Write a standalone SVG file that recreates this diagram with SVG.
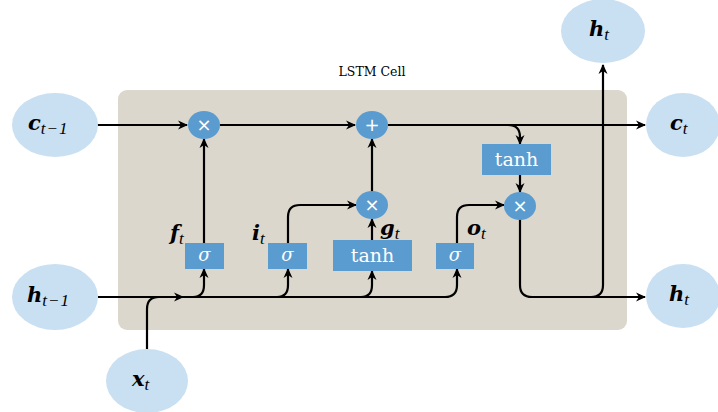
<svg xmlns="http://www.w3.org/2000/svg" width="718" height="412" viewBox="0 0 718 412">
<style>
.io{fill:#c9dff2;}
.op{fill:#5a9ccf;}
.box{fill:#5a9ccf;}
.ln{fill:none;stroke:#000;stroke-width:2.2;}
.m{font-family:'DejaVu Serif','Liberation Serif',serif;font-style:italic;font-weight:bold;font-size:21px;fill:#000;}
.sub{font-family:'Liberation Serif','DejaVu Serif',serif;font-style:italic;font-size:17px;font-weight:normal;letter-spacing:1px;}
.sym{font-family:'DejaVu Sans','Liberation Sans',sans-serif;font-size:18px;fill:#ffffff;}
.bt{font-family:'DejaVu Serif','Liberation Serif',serif;font-size:19px;fill:#ffffff;}
.sg{font-family:'DejaVu Serif','Liberation Serif',serif;font-style:italic;font-size:18px;fill:#ffffff;}
</style>
<defs>
<marker id="ah" viewBox="0 0 10 10" refX="9" refY="5" markerWidth="10" markerHeight="10" orient="auto" markerUnits="userSpaceOnUse">
<path d="M0,0.5 L10,5 L0,9.5 L3,5 Z" fill="#000"/>
</marker>
</defs>
<rect width="718" height="412" fill="#ffffff"/>
<rect x="118" y="90" width="509" height="240" rx="9" fill="#dcd7cc"/>
<text x="372" y="76" text-anchor="middle" font-family="DejaVu Serif,serif" font-size="12.5" fill="#000">LSTM Cell</text>

<g id="connectors">
<path class="ln" d="M97,125 H187" marker-end="url(#ah)"/>
<path class="ln" d="M220,125 H355" marker-end="url(#ah)"/>
<path class="ln" d="M388,125 H645" marker-end="url(#ah)"/>
<path class="ln" d="M508,125 Q520,125 520,137 V144" marker-end="url(#ah)"/>
<path class="ln" d="M520,175 V192" marker-end="url(#ah)"/>
<path class="ln" d="M204,243 V139" marker-end="url(#ah)"/>
<path class="ln" d="M288,243 V217 Q288,205 300,205 H356" marker-end="url(#ah)"/>
<path class="ln" d="M372,240 V219" marker-end="url(#ah)"/>
<path class="ln" d="M372,192 V139" marker-end="url(#ah)"/>
<path class="ln" d="M457,243 V217 Q457,205 469,205 H504" marker-end="url(#ah)"/>
<path class="ln" d="M520,219 V285 Q520,297 532,297 H645" marker-end="url(#ah)"/>
<path class="ln" d="M591,297 Q603,297 603,285 V65" marker-end="url(#ah)"/>
<path class="ln" d="M98,297 H183" marker-end="url(#ah)"/>
<path class="ln" d="M183,297 H445 Q457,297 457,285 V269" marker-end="url(#ah)"/>
<path class="ln" d="M147,350 V309 Q147,297 159,297"/>
<path class="ln" d="M193,297 Q204,297 204,285 V269" marker-end="url(#ah)"/>
<path class="ln" d="M277,297 Q288,297 288,285 V269" marker-end="url(#ah)"/>
<path class="ln" d="M361,297 Q372,297 372,285 V271" marker-end="url(#ah)"/>
</g>

<g id="c_prev"><ellipse class="io" cx="55" cy="125" rx="43" ry="32"/><text x="28" y="130" class="m">c<tspan class="sub" dy="4">t−1</tspan></text></g>
<g id="h_prev"><ellipse class="io" cx="55" cy="297" rx="43" ry="33"/><text x="27" y="302" class="m">h<tspan class="sub" dy="4">t−1</tspan></text></g>
<g id="x_t"><ellipse class="io" cx="147" cy="381" rx="41" ry="32"/><text x="132" y="386" class="m">x<tspan class="sub" dy="4">t</tspan></text></g>
<g id="h_t_top"><ellipse class="io" cx="603" cy="31" rx="42" ry="32"/><text x="589" y="36" class="m">h<tspan class="sub" dy="4">t</tspan></text></g>
<g id="c_t"><ellipse class="io" cx="683" cy="125" rx="37" ry="32"/><text x="670" y="130" class="m">c<tspan class="sub" dy="4">t</tspan></text></g>
<g id="h_t_right"><ellipse class="io" cx="683" cy="296" rx="37" ry="32"/><text x="669" y="301" class="m">h<tspan class="sub" dy="4">t</tspan></text></g>

<g id="mul_f"><ellipse class="op" cx="204" cy="125" rx="16" ry="14"/><text x="204" y="131" text-anchor="middle" class="sym">×</text></g>
<g id="add_c"><ellipse class="op" cx="372" cy="125" rx="16" ry="14"/><text x="372" y="131" text-anchor="middle" class="sym">+</text></g>
<g id="mul_i"><ellipse class="op" cx="372" cy="205" rx="16" ry="14"/><text x="372" y="211" text-anchor="middle" class="sym">×</text></g>
<g id="mul_o"><ellipse class="op" cx="520" cy="206" rx="16" ry="14"/><text x="520" y="212" text-anchor="middle" class="sym">×</text></g>

<g id="tanh_c"><rect class="box" x="482" y="144" width="69" height="31"/><text x="516.5" y="166" text-anchor="middle" class="bt">tanh</text></g>
<g id="tanh_g"><rect class="box" x="333" y="240" width="79" height="31"/><text x="372.5" y="262" text-anchor="middle" class="bt">tanh</text></g>
<g id="sig_f"><rect class="box" x="185" y="243" width="39" height="26"/><text x="204.5" y="261" text-anchor="middle" class="sg">σ</text></g>
<g id="sig_i"><rect class="box" x="268" y="243" width="39" height="26"/><text x="287.5" y="261" text-anchor="middle" class="sg">σ</text></g>
<g id="sig_o"><rect class="box" x="436" y="243" width="38" height="26"/><text x="455" y="261" text-anchor="middle" class="sg">σ</text></g>

<g id="labels">
<text x="170" y="240" class="m">f<tspan class="sub" dy="4">t</tspan></text>
<text x="252" y="240" class="m">i<tspan class="sub" dy="4">t</tspan></text>
<text x="380" y="235" class="m">g<tspan class="sub" dy="4">t</tspan></text>
<text x="467" y="235" class="m">o<tspan class="sub" dy="4">t</tspan></text>
</g>
</svg>
